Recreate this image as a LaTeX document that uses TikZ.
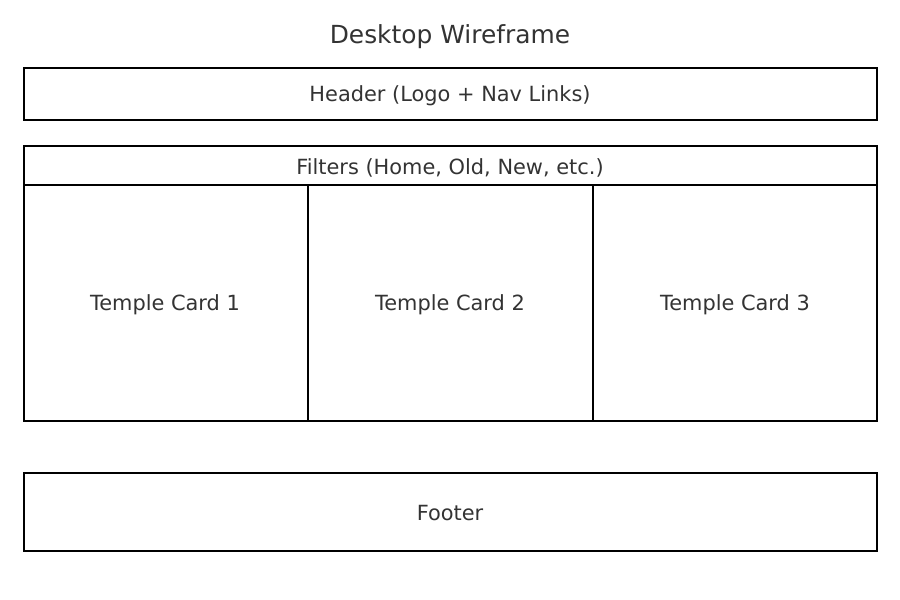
\documentclass[tikz,border=0pt]{standalone}
\usepackage{fontspec}
\setmainfont{DejaVu Sans}
\definecolor{txt}{HTML}{333333}
\begin{document}
\begin{tikzpicture}[x=1pt,y=-1pt,
  box/.style={draw=black,line width=2.4pt},
  lbl/.style={text=txt,font=\fontsize{20.9}{24}\selectfont,inner sep=0pt},
  ttl/.style={text=txt,font=\fontsize{24.9}{28}\selectfont,inner sep=0pt}]
\useasboundingbox (0,0) rectangle (900,600);
\node[ttl] (title) at (450,37) {Desktop Wireframe};
\begin{scope}
\clip (0,0) rectangle (878,600);
\draw[box] (24,68) rectangle (877,120);
\draw[box] (24,146) rectangle (877,185);
\draw[box] (24,185) rectangle (877,421);
\draw[line width=2.8pt] (308,185) -- (308,421);
\draw[line width=2.8pt] (593,185) -- (593,421);
\draw[box] (24,473) rectangle (877,551);
\end{scope}
\node[lbl] (header) at (450,95.5) {Header (Logo + Nav Links)};
\node[lbl] (filters) at (450,167.5) {Filters (Home, Old, New, etc.)};
\node[lbl] (card1) at (165,304.5) {Temple Card 1};
\node[lbl] (card2) at (450,304.5) {Temple Card 2};
\node[lbl] (card3) at (735,304.5) {Temple Card 3};
\node[lbl] (footer) at (450,513.5) {Footer};
\end{tikzpicture}
\end{document}
